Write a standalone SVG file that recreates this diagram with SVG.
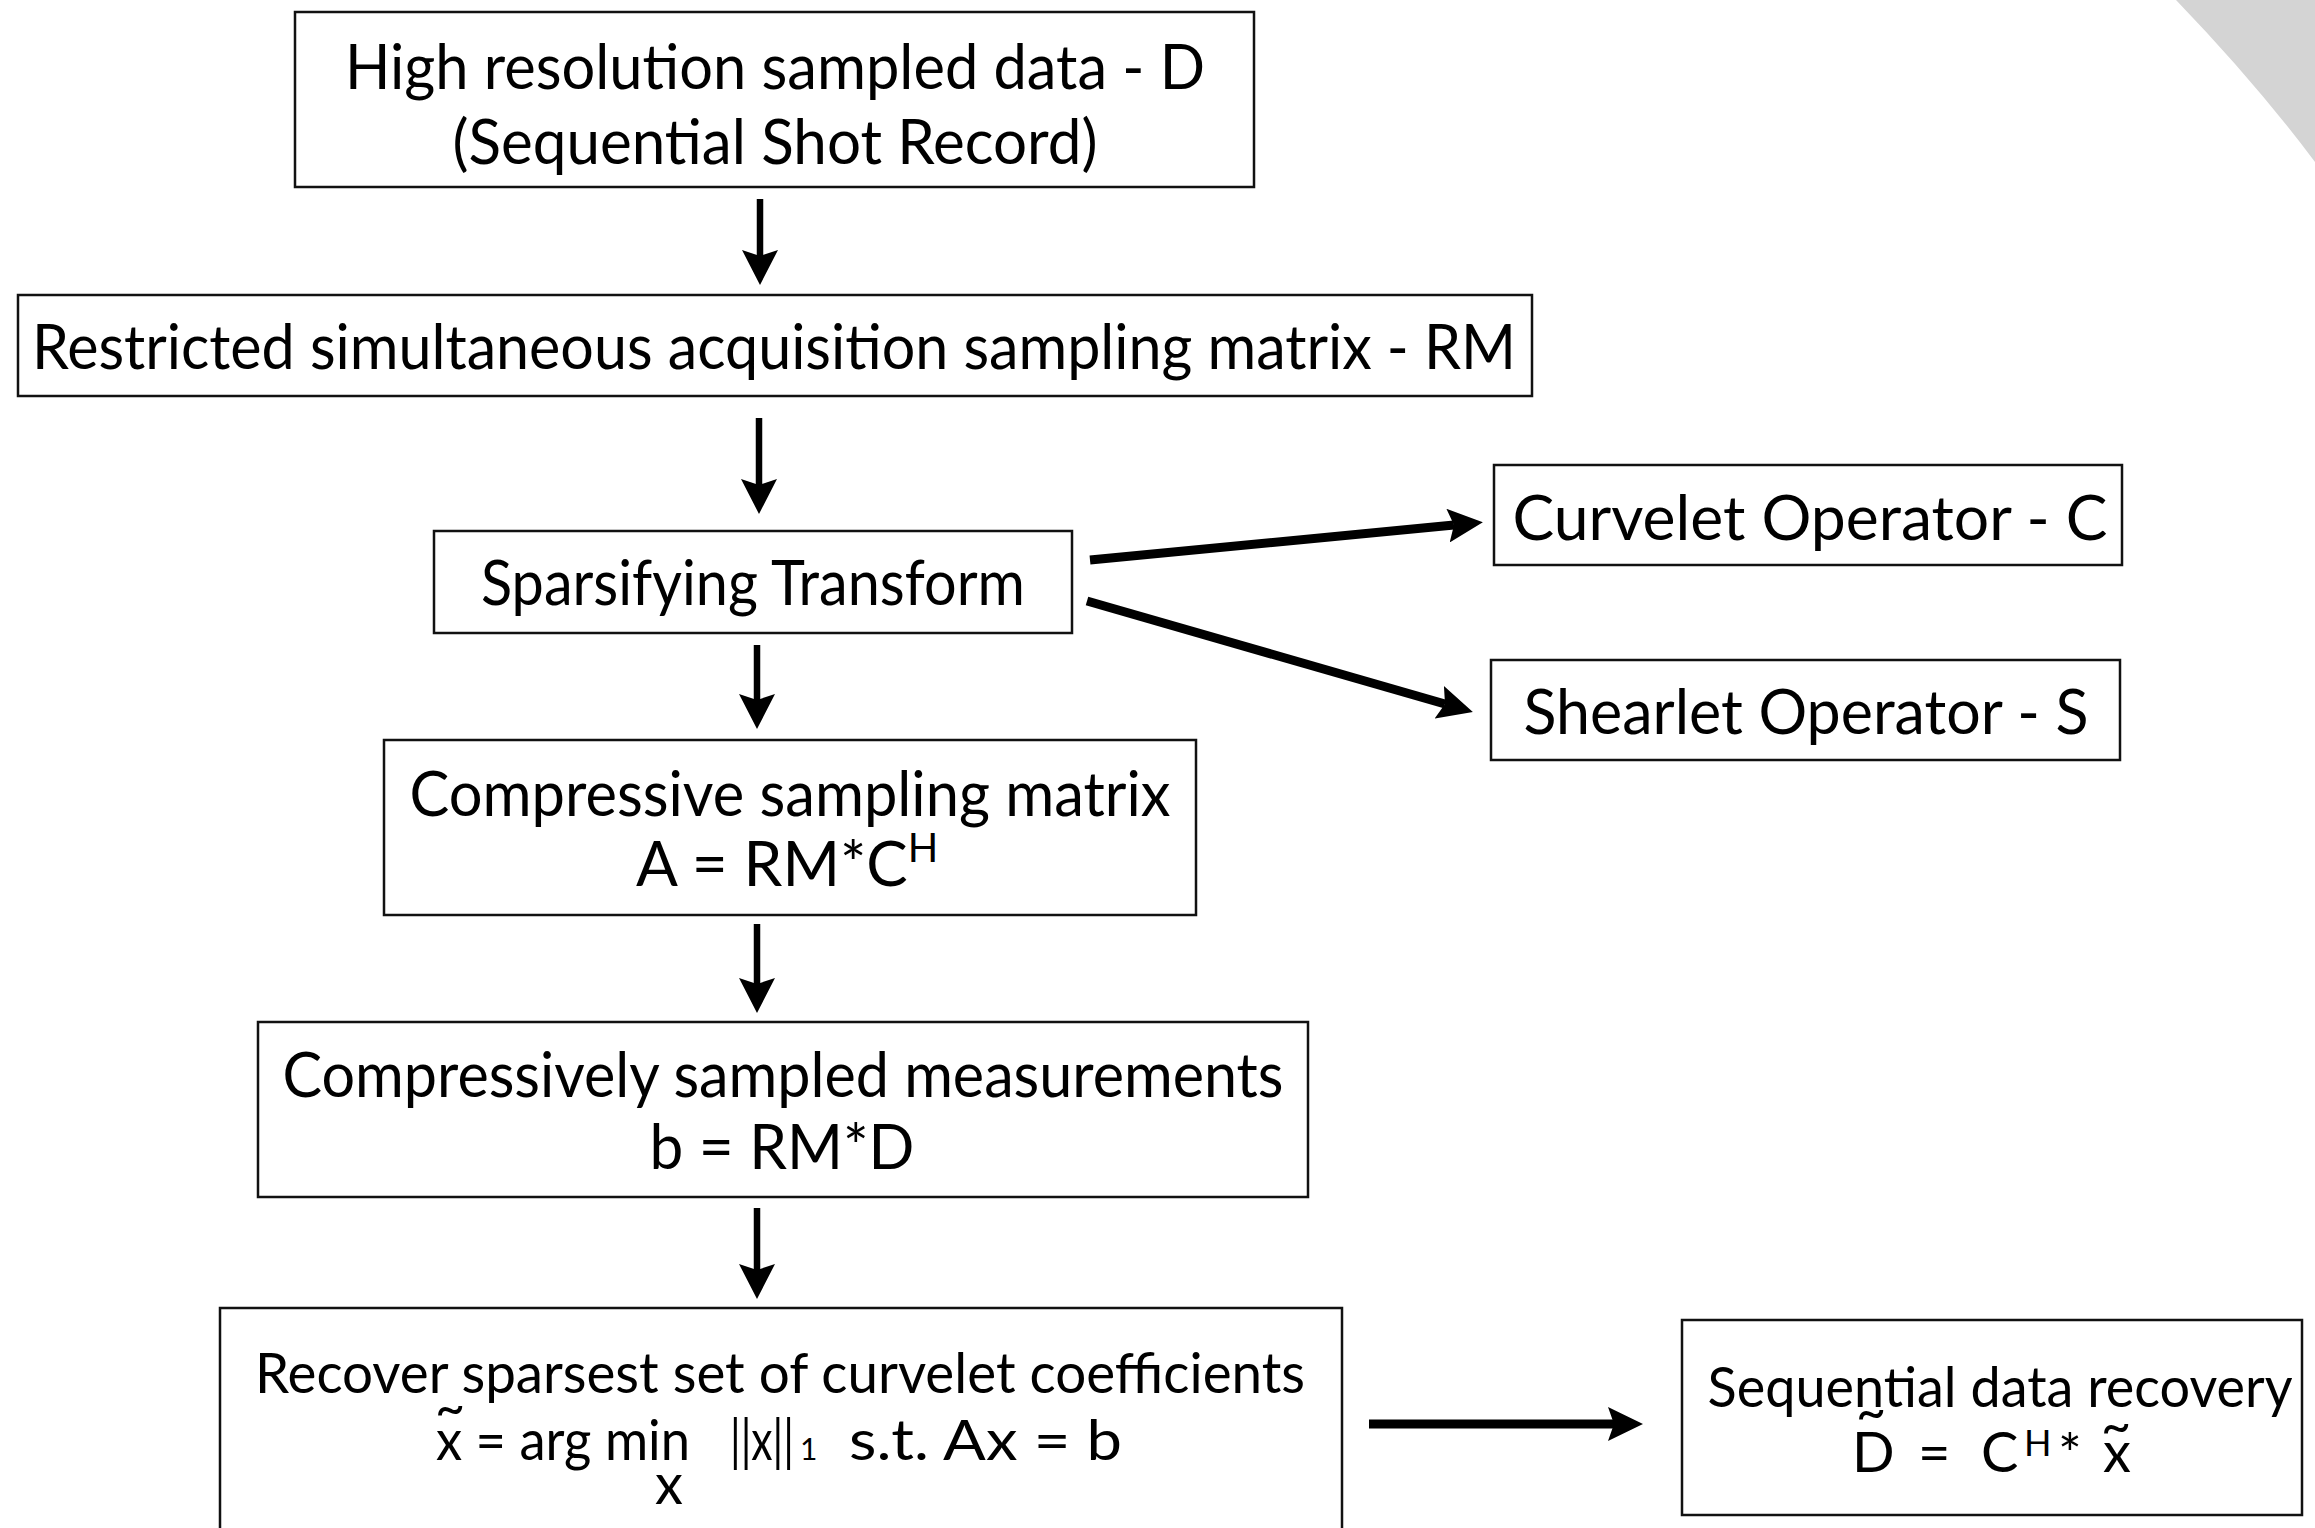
<svg xmlns="http://www.w3.org/2000/svg" width="2315" height="1528" viewBox="0 0 2315 1528">
<style>
.box{fill:#fff;stroke:#111;stroke-width:2.5}
.t{font-family:Lato,"Open Sans","Liberation Sans",sans-serif;font-size:62px;fill:#000;text-anchor:middle}
.s{font-size:56px}
.l{text-anchor:start}
.tl{font-size:52px}
.sup{font-size:36px}
.sub{font-size:30px}
.con{stroke:#000;fill:none}
.thin{stroke-width:6.5}
.thick{stroke-width:9}
</style>
<defs>
<marker id="hv" markerUnits="userSpaceOnUse" markerWidth="36" markerHeight="36" refX="6" refY="18" orient="auto"><path d="M0,0 L35,18 L0,36 L6,18 z" fill="#000"/></marker>
<marker id="hd" markerUnits="userSpaceOnUse" markerWidth="36" markerHeight="34" refX="6" refY="17" orient="auto"><path d="M0,0 L35,17 L0,34 L6,17 z" fill="#000"/></marker>
</defs>
<rect width="2315" height="1528" fill="#fff"/>
<path d="M2176,0 Q2255,82 2315,162 L2315,0 Z" fill="#d4d4d4"/>

<g id="n1"><rect class="box" x="295" y="12" width="959" height="175"/>
<text class="t" x="775" y="89" textLength="860" lengthAdjust="spacingAndGlyphs">High resolution sampled data - D</text>
<text class="t" x="775" y="164" textLength="645" lengthAdjust="spacingAndGlyphs">(Sequential Shot Record)</text></g>

<g id="n2"><rect class="box" x="18" y="295" width="1514" height="101"/>
<text class="t" x="774" y="369" textLength="1484" lengthAdjust="spacingAndGlyphs">Restricted simultaneous acquisition sampling matrix - RM</text></g>

<g id="n3"><rect class="box" x="434" y="531" width="638" height="102"/>
<text class="t" x="753" y="605" textLength="544" lengthAdjust="spacingAndGlyphs">Sparsifying Transform</text></g>

<g id="n4"><rect class="box" x="384" y="740" width="812" height="175"/>
<text class="t" x="790" y="816" textLength="761" lengthAdjust="spacingAndGlyphs">Compressive sampling matrix</text>
<text class="t l" x="636" y="886">A = RM*C<tspan style="font-size:40px" dy="-24">H</tspan></text></g>

<g id="n5"><rect class="box" x="258" y="1022" width="1050" height="175"/>
<text class="t" x="783" y="1097" textLength="1001" lengthAdjust="spacingAndGlyphs">Compressively sampled measurements</text>
<text class="t" x="782" y="1169" textLength="265" lengthAdjust="spacingAndGlyphs">b = RM*D</text></g>

<g id="n6"><rect class="box" x="220" y="1308" width="1122" height="240"/>
<text class="t s" x="780" y="1393" textLength="1050" lengthAdjust="spacingAndGlyphs">Recover sparsest set of curvelet coefficients</text>
<text class="t tl" x="450" y="1426">~</text>
<text class="t s l" x="436" y="1460" textLength="254" lengthAdjust="spacingAndGlyphs">x = arg min</text>
<text class="t s l" x="730" y="1460" textLength="64" lengthAdjust="spacingAndGlyphs">||x||</text>
<text class="t sub l" x="800" y="1460">1</text>
<text class="t s l" x="849" y="1460" textLength="273" lengthAdjust="spacingAndGlyphs">s.t.  Ax = b</text>
<text class="t s" x="669" y="1504">x</text></g>

<g id="n7"><rect class="box" x="1682" y="1320" width="620" height="195"/>
<text class="t s" x="2000" y="1407" textLength="585" lengthAdjust="spacingAndGlyphs">Sequential data recovery</text>
<text class="t tl" x="1871" y="1430">~</text>
<text class="t s l" x="1852" y="1472">D</text>
<text class="t s l" x="1918" y="1472">=</text>
<text class="t s l" x="1981" y="1472">C</text>
<text class="t sup l" x="2024" y="1456">H</text>
<text class="t s l" x="2058" y="1474">*</text>
<text class="t s l" x="2103" y="1472">x</text>
<text class="t tl" x="2116" y="1444">~</text></g>

<g id="nC"><rect class="box" x="1494" y="465" width="628" height="100"/>
<text class="t" x="1810" y="540" textLength="595" lengthAdjust="spacingAndGlyphs">Curvelet Operator - C</text></g>

<g id="nS"><rect class="box" x="1491" y="660" width="629" height="100"/>
<text class="t" x="1806" y="734" textLength="565" lengthAdjust="spacingAndGlyphs">Shearlet Operator - S</text></g>

<g id="connectors">
<line class="con thin" x1="760" y1="199" x2="760" y2="256" marker-end="url(#hv)"/>
<line class="con thin" x1="759" y1="418" x2="759" y2="485" marker-end="url(#hv)"/>
<line class="con thin" x1="757" y1="645" x2="757" y2="700" marker-end="url(#hv)"/>
<line class="con thin" x1="757" y1="924" x2="757" y2="984" marker-end="url(#hv)"/>
<line class="con thin" x1="757" y1="1208" x2="757" y2="1270" marker-end="url(#hv)"/>
<line class="con thick" x1="1090" y1="560" x2="1454" y2="525" marker-end="url(#hd)"/>
<line class="con thick" x1="1087" y1="601" x2="1445" y2="704" marker-end="url(#hd)"/>
<line class="con thick" x1="1369" y1="1424" x2="1614" y2="1424" marker-end="url(#hd)"/>
</g>
</svg>
